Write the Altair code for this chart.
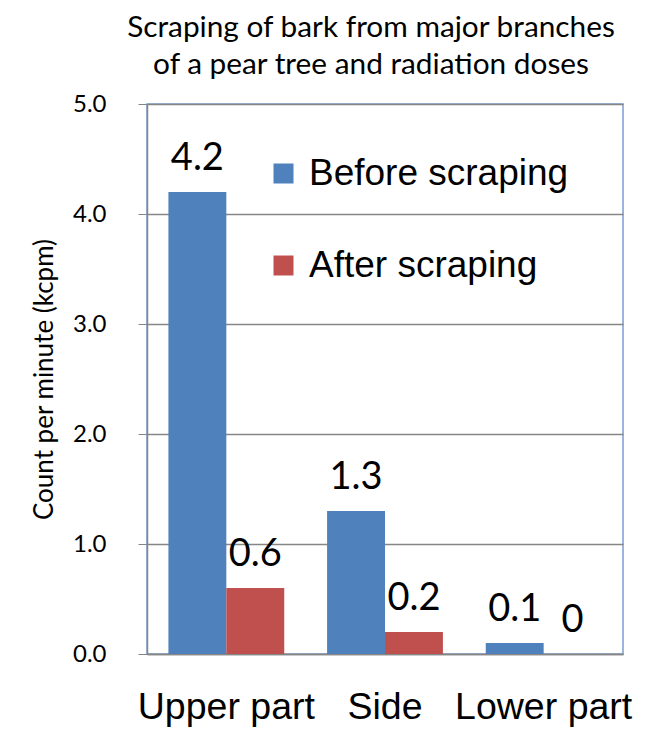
import altair as alt
import pandas as pd

parts = ["Upper part", "Side", "Lower part"]
stages = ["Before scraping", "After scraping"]
before = [4.2, 1.3, 0.1]
after = [0.6, 0.2, 0.0]
y_ticks = [0, 1, 2, 3, 4, 5]

rows = []
for p, b, a in zip(parts, before, after):
    rows.append({"part": p, "stage": stages[0], "value": b})
    rows.append({"part": p, "stage": stages[1], "value": a})
df = pd.DataFrame(rows)

BLUE = "#4F81BD"
RED = "#C0504D"
CAL = "Lato"
ARIAL = "Liberation Sans"

x_enc = alt.X("part:N", sort=parts, title=None,
              scale=alt.Scale(paddingInner=0.27, paddingOuter=0.135),
              axis=alt.Axis(labelFont=ARIAL, labelFontSize=37.5, labelColor="black",
                            labelPadding=34, ticks=False, domainColor="#868686",
                            domainWidth=1.5, labelAngle=0))
y_enc = alt.Y("value:Q", title="Count per minute (kcpm)",
              scale=alt.Scale(domain=[0, 5], nice=False),
              axis=alt.Axis(values=y_ticks, format=".1f", labelFont=CAL, labelFontSize=24,
                            labelColor="black", labelPadding=32, tickSize=9,
                            tickColor="#868686", domainColor="#868686", domainWidth=1.5,
                            gridColor="#868686", gridWidth=1.3,
                            titleFont=CAL, titleFontSize=26, titleFontWeight="normal",
                            titleColor="black", titlePadding=15))

bars = alt.Chart(df).mark_bar().encode(
    x=x_enc,
    xOffset=alt.XOffset("stage:N", sort=stages),
    y=y_enc,
    color=alt.Color("stage:N", sort=stages,
                    scale=alt.Scale(domain=stages, range=[BLUE, RED]),
                    legend=alt.Legend(title=None, orient="none", legendX=118, legendY=51,
                                      symbolType="square", symbolSize=400,
                                      symbolStrokeWidth=0, labelFont=ARIAL,
                                      labelFontSize=37, labelColor="black",
                                      labelOffset=7, rowPadding=54, padding=0,
                                      labelLimit=400)),
)

labels = alt.Chart(df).mark_text(font=CAL, fontSize=38, color="black",
                                 baseline="alphabetic", dy=-22).encode(
    x=alt.X("part:N", sort=parts),
    xOffset=alt.XOffset("stage:N", sort=stages),
    y=alt.Y("value:Q"),
    text=alt.Text("value:N"),
)

chart = alt.layer(bars, labels).properties(
    width=476, height=550,
    title=alt.TitleParams(
        text=["Scraping of bark from major branches", "of a pear tree and radiation doses"],
        font=CAL, fontSize=29.8, fontWeight="normal", color="black",
        lineHeight=37, anchor="middle", dx=-14, offset=12),
    autosize=alt.AutoSizeParams(type="none"),
    padding={"left": 139, "top": 96, "right": 17, "bottom": 73},
).configure_view(stroke="#7A9FD3", strokeWidth=1.5)

chart.save("out.html", embed_options={"renderer": "svg", "actions": False})
